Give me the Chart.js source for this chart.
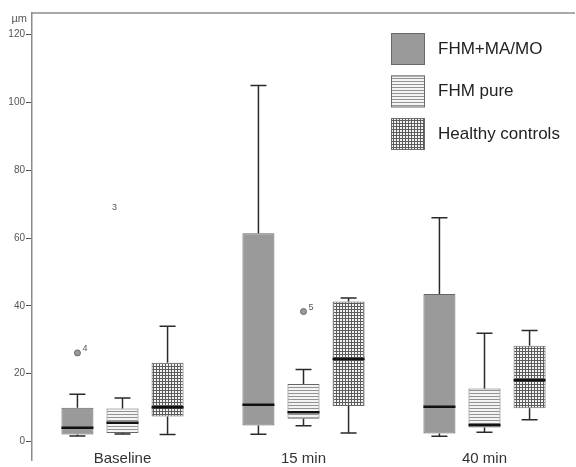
<!DOCTYPE html>
<html>
<head>
<meta charset="utf-8">
<script src="https://cdn.jsdelivr.net/npm/chart.js@4/dist/chart.umd.min.js"></script>
<style>
  body { margin: 0; background: #fff; }
  canvas { display: block; }
</style>
</head>
<body>
<canvas id="chart" width="576" height="467"></canvas>
<script>
const categories = ['Baseline', '15 min', '40 min'];
const seriesNames = ['FHM+MA/MO', 'FHM pure', 'Healthy controls'];

// [min whisker, q1, median, q3, max whisker] per category
const fhmMaMo = [[1.6, 2.0, 4.0, 9.9, 13.9], [2.1, 4.7, 10.8, 61.4, 105], [1.5, 2.3, 10.2, 43.5, 66]];
const fhmPure = [[2.2, 2.5, 5.5, 9.7, 12.8], [4.6, 6.7, 8.6, 16.9, 21.2], [2.7, 4.1, 4.8, 15.6, 31.9]];
const healthy = [[2.0, 7.3, 10.1, 23.2, 34.0], [2.5, 10.4, 24.3, 41.3, 42.3], [6.4, 9.8, 18.0, 28.2, 32.7]];

// outliers: series index, category index, value, case label
const outlierSeries = [0, 1];
const outlierCats = [0, 1];
const outlierValues = [26.1, 38.3];
const outlierLabels = ['4', '5'];

// extreme case with only its label visible
const extremeSeries = [1];
const extremeCats = [0];
const extremeValues = [69];
const extremeLabels = ['3'];

const yTicks = [0, 20, 40, 60, 80, 100, 120];

const canvas = document.getElementById('chart');
const ctx = canvas.getContext('2d');

function makePattern(kind) {
    const c = document.createElement('canvas');
    c.width = 3; c.height = 3;
    const g = c.getContext('2d');
    if (kind === 'lines') {
        g.fillStyle = '#f4f4f4'; g.fillRect(0, 0, 3, 3);
        g.fillStyle = '#939393'; g.fillRect(0, 0, 3, 1);
    } else {
        g.fillStyle = '#f2f2f2'; g.fillRect(0, 0, 3, 3);
        g.fillStyle = '#5c5c5c'; g.fillRect(0, 0, 3, 1); g.fillRect(0, 0, 1, 3);
    }
    return ctx.createPattern(c, 'repeat');
}

const fills = ['#9a9a9a', makePattern('lines'), makePattern('grid')];
const allSeries = [fhmMaMo, fhmPure, healthy];

const boxPlotExtras = {
    id: 'boxPlotExtras',
    afterDatasetsDraw(chart) {
        const c = chart.ctx;
        const y = chart.scales.y;
        c.save();
        allSeries.forEach((series, s) => {
            const meta = chart.getDatasetMeta(s);
            series.forEach((r, i) => {
                const bar = meta.data[i];
                const x = bar.x, half = bar.width / 2;
                c.strokeStyle = '#2a2a2a';
                c.lineWidth = 1.5;
                c.beginPath();
                c.moveTo(x, y.getPixelForValue(r[4])); c.lineTo(x, y.getPixelForValue(r[3]));
                c.moveTo(x, y.getPixelForValue(r[0])); c.lineTo(x, y.getPixelForValue(r[1]));
                c.moveTo(x - 8, y.getPixelForValue(r[4])); c.lineTo(x + 8, y.getPixelForValue(r[4]));
                c.moveTo(x - 8, y.getPixelForValue(r[0])); c.lineTo(x + 8, y.getPixelForValue(r[0]));
                c.stroke();
                c.strokeStyle = '#111';
                c.lineWidth = 2.5;
                c.beginPath();
                c.moveTo(x - half, y.getPixelForValue(r[2])); c.lineTo(x + half, y.getPixelForValue(r[2]));
                c.stroke();
            });
        });
        c.font = '9px "Liberation Sans", Arial, sans-serif';
        c.textBaseline = 'middle';
        outlierValues.forEach((v, k) => {
            const bar = chart.getDatasetMeta(outlierSeries[k]).data[outlierCats[k]];
            const py = y.getPixelForValue(v);
            c.beginPath();
            c.arc(bar.x, py, 3, 0, Math.PI * 2);
            c.fillStyle = '#9a9a9a';
            c.fill();
            c.strokeStyle = '#666';
            c.lineWidth = 1;
            c.stroke();
            c.fillStyle = '#555';
            c.fillText(outlierLabels[k], bar.x + 5, py - 4);
        });
        extremeValues.forEach((v, k) => {
            const bar = chart.getDatasetMeta(extremeSeries[k]).data[extremeCats[k]];
            c.fillStyle = '#555';
            c.textAlign = 'center';
            c.fillText(extremeLabels[k], bar.x - 8, y.getPixelForValue(v));
        });
        c.restore();
    },
    afterDraw(chart) {
        const c = chart.ctx;
        const area = chart.chartArea;
        const x = chart.scales.x;
        c.save();
        // top frame line
        c.strokeStyle = '#8c8c8c';
        c.lineWidth = 1.5;
        c.beginPath();
        c.moveTo(area.left, area.top); c.lineTo(area.right, area.top);
        c.stroke();
        // unit label
        c.fillStyle = '#555';
        c.font = '11px "Liberation Sans", Arial, sans-serif';
        c.textAlign = 'right';
        c.textBaseline = 'middle';
        c.fillText('µm', area.left - 5, area.top + 6);
        // category labels
        c.fillStyle = '#333';
        c.font = '15px "Liberation Sans", Arial, sans-serif';
        c.textAlign = 'center';
        c.textBaseline = 'alphabetic';
        chart.data.labels.forEach((lab, i) => {
            c.fillText(lab, x.getPixelForTick(i), 462.5);
        });
        // legend
        c.font = '17px "Liberation Sans", Arial, sans-serif';
        c.textAlign = 'left';
        c.textBaseline = 'middle';
        chart.data.datasets.forEach((ds, i) => {
            const ly = 33 + i * 42.5;
            c.fillStyle = ds.backgroundColor;
            c.fillRect(391, ly, 34, 32);
            c.strokeStyle = '#6a6a6a';
            c.lineWidth = 1;
            c.strokeRect(391.5, ly + 0.5, 33, 31);
            c.fillStyle = '#222';
            c.fillText(ds.label, 438, ly + 16);
        });
        c.restore();
    }
};

new Chart(ctx, {
    type: 'bar',
    data: {
        labels: categories,
        datasets: allSeries.map((series, s) => ({
            label: seriesNames[s],
            data: series.map(r => [r[1], r[3]]),
            backgroundColor: fills[s],
            borderColor: '#666',
            borderWidth: 1,
            borderSkipped: false,
            categoryPercentage: 0.747,
            barPercentage: 0.71
        }))
    },
    options: {
        responsive: false,
        animation: false,
        devicePixelRatio: 1,
        layout: { padding: { top: 13, right: 1, bottom: 0, left: 0 } },
        plugins: { legend: { display: false }, tooltip: { enabled: false } },
        scales: {
            x: { display: false },
            y: {
                min: -5.5,
                max: 126.4,
                afterBuildTicks: scale => { scale.ticks = yTicks.map(v => ({ value: v })); },
                afterFit: scale => { scale.width = 32; },
                border: { color: '#8c8c8c', width: 1.5 },
                grid: { drawOnChartArea: false, drawTicks: true, tickLength: 6, color: '#555' },
                ticks: {
                    padding: 1,
                    color: '#555',
                    font: { family: '"Liberation Sans", Arial, sans-serif', size: 10 }
                }
            }
        }
    },
    plugins: [boxPlotExtras]
});
</script>
</body>
</html>
